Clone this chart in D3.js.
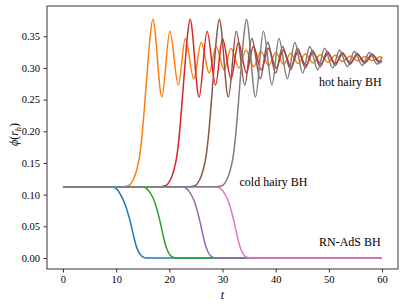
<!DOCTYPE html>
<html><head><meta charset="utf-8">
<script src="https://cdn.jsdelivr.net/npm/d3@7"></script>
<style>body{margin:0;background:#fff}svg{display:block}text{font-family:"Liberation Serif","DejaVu Serif",serif;fill:#000}</style>
</head><body><svg id="c" width="407" height="308"></svg>
<script>
// ---- data ----
const xTicks = [0, 10, 20, 30, 40, 50, 60];
const yTicks = [0.00, 0.05, 0.10, 0.15, 0.20, 0.25, 0.30, 0.35];

const tBlue   = [0, 8.0, 9.0, 9.6, 10.2, 10.7, 11.2, 11.7, 12.2, 12.7, 13.2, 13.7, 14.2, 14.7, 15.2, 15.7, 60];
const phiBlue = [0.1126, 0.1126, 0.1122, 0.1112, 0.108, 0.102, 0.094, 0.084, 0.071, 0.056, 0.038, 0.021, 0.010, 0.004, 0.001, 0.0, 0.0];

const tGreen   = [0, 13.8, 14.8, 15.3, 15.8, 16.3, 16.8, 17.3, 17.8, 18.3, 18.8, 19.3, 19.8, 20.3, 20.8, 21.3, 60];
const phiGreen = [0.1126, 0.1126, 0.1123, 0.1115, 0.109, 0.104, 0.097, 0.087, 0.073, 0.056, 0.037, 0.020, 0.009, 0.003, 0.001, 0.0, 0.0];

const tPurple   = [0, 21.3, 22.3, 22.8, 23.3, 23.8, 24.3, 24.8, 25.3, 25.8, 26.3, 26.8, 27.3, 27.8, 28.3, 28.8, 60];
const phiPurple = [0.1126, 0.1126, 0.1123, 0.1115, 0.109, 0.104, 0.097, 0.087, 0.073, 0.056, 0.037, 0.020, 0.009, 0.003, 0.001, 0.0, 0.0];

const tPink   = [0, 27.7, 28.7, 29.2, 29.7, 30.2, 30.7, 31.2, 31.7, 32.2, 32.7, 33.2, 33.7, 34.2, 34.7, 35.2, 60];
const phiPink = [0.1126, 0.1126, 0.1123, 0.1115, 0.109, 0.104, 0.097, 0.087, 0.073, 0.056, 0.037, 0.020, 0.009, 0.003, 0.001, 0.0, 0.0];

const tOrange = [0, 11.4, 12.4, 12.9, 13.4, 13.9, 14.4, 14.9, 15.4, 15.9, 16.4, 16.9,
  18.6, 20.1, 21.7, 23.0, 24.6, 26.0, 27.5, 28.8, 30.3, 31.6, 33.1, 34.4, 35.9, 37.2, 38.7, 40.0,
  41.5, 42.8, 44.2, 45.6, 47.0, 48.4, 49.8, 51.2, 52.6, 54.0, 55.4, 56.8, 58.2, 59.6, 60];
const phiOrange = [0.1126, 0.1126, 0.1145, 0.119, 0.127, 0.140, 0.160, 0.196, 0.246, 0.300, 0.350, 0.377,
  0.254, 0.358, 0.273, 0.3465, 0.283, 0.340, 0.292, 0.334, 0.297, 0.331, 0.300, 0.328, 0.302, 0.326, 0.304, 0.3245,
  0.306, 0.323, 0.307, 0.322, 0.308, 0.321, 0.309, 0.320, 0.310, 0.319, 0.311, 0.318, 0.3115, 0.3175, 0.317];

const tRed = [0, 18.4, 19.4, 19.9, 20.4, 20.9, 21.4, 21.9, 22.4, 22.9, 23.4, 23.9,
  25.6, 27.1, 28.7, 30.0, 31.6, 33.0, 34.5, 35.8, 37.3, 38.6, 40.1, 41.4, 42.9, 44.2, 45.7, 47.0,
  48.5, 49.8, 51.2, 52.6, 54.0, 55.4, 56.8, 58.2, 59.6, 60];
const phiRed = [0.1126, 0.1126, 0.1145, 0.119, 0.127, 0.140, 0.160, 0.196, 0.246, 0.300, 0.350, 0.377,
  0.254, 0.358, 0.273, 0.3465, 0.283, 0.340, 0.292, 0.334, 0.297, 0.331, 0.300, 0.328, 0.302, 0.326, 0.304, 0.3245,
  0.306, 0.323, 0.307, 0.322, 0.308, 0.321, 0.309, 0.320, 0.310, 0.3105];

const tBrown = [0, 23.9, 24.9, 25.4, 25.9, 26.4, 26.9, 27.4, 27.9, 28.4, 28.9, 29.4,
  31.1, 32.6, 34.2, 35.5, 37.1, 38.5, 40.0, 41.3, 42.8, 44.1, 45.6, 46.9, 48.4, 49.7, 51.2, 52.5,
  54.0, 55.3, 56.7, 58.1, 59.5, 60];
const phiBrown = [0.1126, 0.1126, 0.1145, 0.119, 0.127, 0.140, 0.160, 0.196, 0.246, 0.300, 0.350, 0.377,
  0.254, 0.358, 0.273, 0.3465, 0.283, 0.340, 0.292, 0.334, 0.297, 0.331, 0.300, 0.328, 0.302, 0.326, 0.304, 0.3245,
  0.306, 0.323, 0.307, 0.322, 0.308, 0.311];

const tGray = [0, 29.0, 30.0, 30.5, 31.0, 31.5, 32.0, 32.5, 33.0, 33.5, 34.0, 34.5,
  36.2, 37.7, 39.3, 40.6, 42.2, 43.6, 45.1, 46.4, 47.9, 49.2, 50.7, 52.0, 53.5, 54.8, 56.3, 57.6,
  59.1, 60];
const phiGray = [0.1126, 0.1126, 0.1145, 0.119, 0.127, 0.140, 0.160, 0.196, 0.246, 0.300, 0.350, 0.377,
  0.254, 0.358, 0.273, 0.3465, 0.283, 0.340, 0.292, 0.334, 0.297, 0.331, 0.300, 0.328, 0.302, 0.326, 0.304, 0.3245,
  0.306, 0.317];

const seriesNames  = ["blue", "orange", "green", "red", "purple", "brown", "pink", "gray"];
const seriesColors = ["#1f77b4", "#ff7f0e", "#2ca02c", "#d62728", "#9467bd", "#8c564b", "#e377c2", "#7f7f7f"];
const seriesT   = [tBlue, tOrange, tGreen, tRed, tPurple, tBrown, tPink, tGray];
const seriesPhi = [phiBlue, phiOrange, phiGreen, phiRed, phiPurple, phiBrown, phiPink, phiGray];

const labels = ["hot hairy BH", "cold hairy BH", "RN-AdS BH"];

// ---- drawing ----
const svg = d3.select("#c");
const L = 47, R = 398, T = 6, B = 269;
const x = d3.scaleLinear().domain([-3, 63]).range([L, R]);
const y = d3.scaleLinear().domain([-0.0174, 0.3978]).range([B, T]);

const line = d3.line().x(d => x(d[0])).y(d => y(d[1])).curve(d3.curveMonotoneX);
const g = svg.append("g");
seriesT.forEach((ts, i) => {
  const pts = ts.map((t, j) => [t, seriesPhi[i][j]]);
  g.append("path").datum(pts).attr("d", line)
    .attr("fill", "none").attr("stroke", seriesColors[i]).attr("stroke-width", 1.5)
    .attr("stroke-linejoin", "round").attr("stroke-linecap", "butt");
});

// axes
const xa = svg.append("g").attr("transform", `translate(0,${B})`)
  .call(d3.axisBottom(x).tickValues(xTicks).tickSize(3.5).tickPadding(3.5).tickFormat(d3.format("d")));
const ya = svg.append("g").attr("transform", `translate(${L},0)`)
  .call(d3.axisLeft(y).tickValues(yTicks).tickSize(3.5).tickPadding(3.5).tickFormat(d3.format(".2f")));
[xa, ya].forEach(a => {
  a.select(".domain").remove();
  a.selectAll("line").attr("stroke", "#222").attr("stroke-width", 0.9);
  a.selectAll("text").style("font-family", '"Liberation Serif", serif').style("font-size", "10.5px").attr("fill", "#000");
});
svg.append("rect").attr("x", L).attr("y", T).attr("width", R - L).attr("height", B - T)
  .attr("fill", "none").attr("stroke", "#333").attr("stroke-width", 1);

// annotations
svg.append("text").attr("x", 319).attr("y", 86).style("font-size", "12px").text(labels[0]);
svg.append("text").attr("x", 239.5).attr("y", 186).style("font-size", "12px").text(labels[1]);
svg.append("text").attr("x", 319).attr("y", 246).style("font-size", "12px").text(labels[2]);

// axis labels
svg.append("text").attr("x", (L + R) / 2).attr("y", 299).attr("text-anchor", "middle")
  .style("font-size", "12px").style("font-style", "italic").text("t");
const yl = svg.append("text").attr("transform", `translate(18,${(T + B) / 2 - 3}) rotate(-90)`)
  .attr("text-anchor", "middle").style("font-size", "12px");
yl.append("tspan").style("font-style", "italic").text("ϕ");
yl.append("tspan").text("(");
yl.append("tspan").style("font-style", "italic").text("r");
yl.append("tspan").style("font-style", "italic").style("font-size", "8.5px").attr("dy", 2.5).text("h");
yl.append("tspan").attr("dy", -2.5).text(")");
</script></body></html>
